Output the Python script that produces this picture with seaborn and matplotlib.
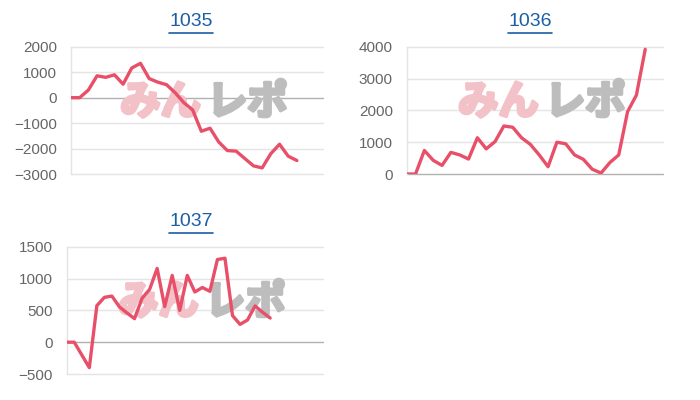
import numpy as np
import pandas as pd
import matplotlib
matplotlib.use("Agg")
import matplotlib.pyplot as plt
import matplotlib.patheffects as pe
import seaborn as sns
from matplotlib.lines import Line2D

# -------------------------------
# Data
# -------------------------------
titles = ["1035", "1036", "1037"]

values_1035 = [0, 0, 300, 860, 800, 900, 530, 1170, 1350, 750, 610, 510, 190,
               -200, -480, -1320, -1200, -1740, -2080, -2100, -2390, -2680,
               -2760, -2200, -1830, -2300, -2470]
values_1036 = [0, 0, 740, 430, 270, 680, 600, 470, 1140, 790, 1020, 1510, 1470,
               1140, 930, 600, 230, 1000, 950, 600, 460, 150, 30, 360, 600,
               1960, 2480, 3920]
values_1037 = [0, 0, -200, -400, 575, 705, 725, 555, 460, 370, 690, 830, 1160,
               560, 1050, 500, 1050, 790, 860, 800, 1300, 1320, 420, 280, 350,
               570, 470, 380]

# number of slots on each x axis (series does not fill all of them)
x_slots = [30, 30, 35]

y_ticks_1035 = [-3000, -2000, -1000, 0, 1000, 2000]
y_ticks_1036 = [0, 1000, 2000, 3000, 4000]
y_ticks_1037 = [-500, 0, 500, 1000, 1500]

series = [values_1035, values_1036, values_1037]
yticks = [y_ticks_1035, y_ticks_1036, y_ticks_1037]

# -------------------------------
# Style
# -------------------------------
sns.set_theme(style="white")
plt.rcParams['font.family'] = ['Liberation Sans', 'Noto Sans CJK JP', 'DejaVu Sans']

line_color = "#e8506a"
grid_color = "#e4e4e4"
zero_color = "#b0b0b0"
tick_color = "#666666"
title_color = "#1a5fa3"
wm_pink = "#f2c2c8"
wm_gray = "#bdbdbd"

fig = plt.figure(figsize=(7, 4), dpi=100)

# axes boxes [left, bottom, width, height] in figure fractions
boxes = [
    [0.1014, 0.565, 0.360, 0.318],
    [0.581, 0.565, 0.366, 0.318],
    [0.0953, 0.065, 0.366, 0.318],
]
title_pos = [(0.273, 0.945), (0.757, 0.945), (0.273, 0.445)]

for i in range(3):
    ax = fig.add_axes(boxes[i])
    df = pd.DataFrame({"x": np.arange(len(series[i])), "y": series[i]})

    sns.lineplot(data=df, x="x", y="y", ax=ax, color=line_color,
                 linewidth=2.4, zorder=3)

    ax.set_xlim(0, x_slots[i] - 1)
    ax.set_ylim(yticks[i][0], yticks[i][-1])
    ax.set_yticks(yticks[i])
    ax.set_xticks([])
    ax.set_xlabel("")
    ax.set_ylabel("")

    ax.tick_params(axis="y", length=0, pad=10, labelsize=11,
                   labelcolor=tick_color)
    for lab in ax.get_yticklabels():
        lab.set_color(tick_color)

    # grid lines
    for t in yticks[i]:
        ax.axhline(t, color=zero_color if t == 0 else grid_color,
                   linewidth=1, zorder=1, clip_on=False)

    for side in ["top", "right", "bottom"]:
        ax.spines[side].set_visible(False)
    ax.spines["left"].set_color(grid_color)
    ax.spines["left"].set_linewidth(1)

    # watermark
    ax.text(0.515, 0.56, "みん", transform=ax.transAxes, ha="right",
            va="center", fontsize=29, fontweight="bold", color=wm_pink,
            family=["Noto Sans CJK JP", "DejaVu Sans"], zorder=2,
            path_effects=[pe.withStroke(linewidth=2.5, foreground=wm_pink)])
    ax.text(0.54, 0.56, "レポ", transform=ax.transAxes, ha="left",
            va="center", fontsize=29, fontweight="bold", color=wm_gray,
            family=["Noto Sans CJK JP", "DejaVu Sans"], zorder=2,
            path_effects=[pe.withStroke(linewidth=2.5, foreground=wm_gray)])

    # title with underline
    tx, ty = title_pos[i]
    fig.text(tx, ty, titles[i], ha="center", va="center", fontsize=14,
             color=title_color)
    fig.add_artist(Line2D([tx - 0.031, tx + 0.031], [ty - 0.027, ty - 0.027],
                          transform=fig.transFigure, color=title_color,
                          linewidth=1.2))

plt.savefig("out.png", dpi=100)
